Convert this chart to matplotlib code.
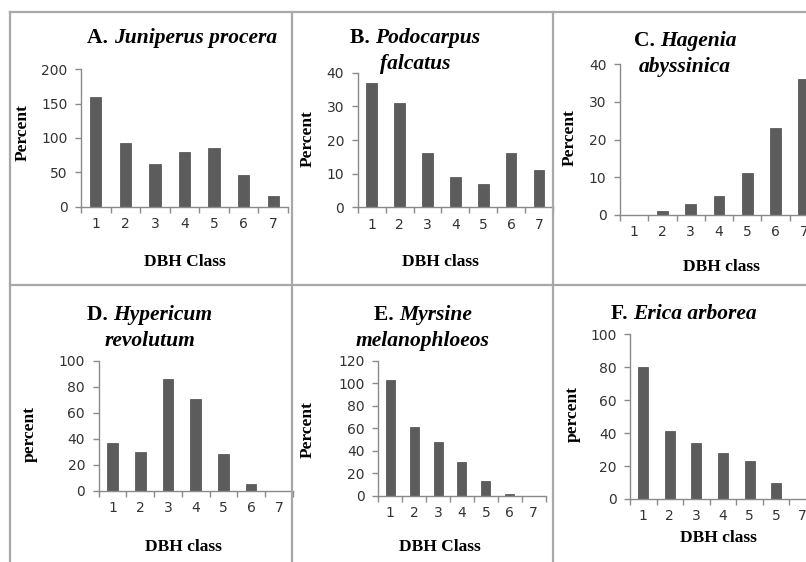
import matplotlib.pyplot as plt
from matplotlib.lines import Line2D
from matplotlib.ticker import MultipleLocator, FixedLocator

W, H = 806, 562
fig = plt.figure(figsize=(W / 100, H / 100), dpi=100)

classes = [1, 2, 3, 4, 5, 6, 7]
juniperus = [160, 92, 62, 79, 86, 46, 16]
podocarpus = [37, 31, 16, 9, 7, 16, 11]
hagenia = [0, 1, 3, 5, 11, 23, 36]
hypericum = [37, 30, 86, 71, 28, 5, 0]
myrsine = [103, 61, 48, 30, 13, 1.5, 0]
erica = [80, 41, 34, 28, 23, 10, 0]
ticks_std = ['1', '2', '3', '4', '5', '6', '7']
ticks_f = ['1', '2', '3', '4', '5', '5', '7']  # as printed in the original

serif = 'Liberation Serif'
bar_col = '#5c5c5c'
axis_col = '#8a8a8a'
grid_col = '#a8a8a8'


def px(x, y):
    return x / W, 1 - y / H


# each panel: values, tick labels, ymax, ystep, axes box (x0, x1, ytop, ybot) in px,
# title parts + centre, ylabel + pos, xlabel + pos
panels = [
    dict(v=juniperus, t=ticks_std, ymax=200, step=50, box=(81, 288, 69.3, 206.7),
         title=[('A.', 'Juniperus procera')], tc=(182, 38),
         yl='Percent', ylp=(23, 133), xl='DBH Class', xlp=(185, 262)),
    dict(v=podocarpus, t=ticks_std, ymax=40, step=10, box=(357.7, 553, 72.7, 207.3),
         title=[('B.', 'Podocarpus'), ('', 'falcatus')], tc=(415, 38),
         yl='Percent', ylp=(308, 139), xl='DBH class', xlp=(440, 262)),
    dict(v=hagenia, t=ticks_std, ymax=40, step=10, box=(620, 818, 64, 215),
         title=[('C.', 'Hagenia'), ('', 'abyssinica')], tc=(685, 41),
         yl='Percent', ylp=(570, 138), xl='DBH class', xlp=(721, 267)),
    dict(v=hypericum, t=ticks_std, ymax=100, step=20, box=(98.7, 292.6, 361, 490.7),
         title=[('D.', 'Hypericum'), ('', 'revolutum')], tc=(150, 315),
         yl='percent', ylp=(30, 434), xl='DBH class', xlp=(183, 547)),
    dict(v=myrsine, t=ticks_std, ymax=120, step=20, box=(378.3, 545.6, 361, 495.7),
         title=[('E.', 'Myrsine'), ('', 'melanophloeos')], tc=(423, 315),
         yl='Percent', ylp=(308, 430), xl='DBH Class', xlp=(440, 547)),
    dict(v=erica, t=ticks_f, ymax=100, step=20, box=(630, 816, 334.3, 499),
         title=[('F.', 'Erica arborea')], tc=(684, 314),
         yl='percent', ylp=(573, 414), xl='DBH class', xlp=(718, 538)),
]

renderer = fig.canvas.get_renderer()

for p in panels:
    x0, x1, yt, yb = p['box']
    ax = fig.add_axes([x0 / W, 1 - yb / H, (x1 - x0) / W, (yb - yt) / H])
    ax.bar(classes, p['v'], width=0.38, color=bar_col, edgecolor='#4a4a4a', linewidth=0.5)
    ax.set_xlim(0.5, 7.5)
    ax.set_ylim(0, p['ymax'])
    ax.yaxis.set_major_locator(MultipleLocator(p['step']))
    ax.set_xticks(classes)
    ax.set_xticklabels(p['t'])
    ax.xaxis.set_minor_locator(FixedLocator([c + 0.5 for c in range(0, 8)]))
    for s in ['top', 'right']:
        ax.spines[s].set_visible(False)
    for s in ['left', 'bottom']:
        ax.spines[s].set_color(axis_col)
        ax.spines[s].set_linewidth(1.0)
    ax.tick_params(axis='y', length=4.3, width=1, color=axis_col, pad=5.5,
                   labelsize=10, labelcolor='#333333')
    ax.tick_params(axis='x', which='major', length=0, pad=7.5,
                   labelsize=10, labelcolor='#333333')
    ax.tick_params(axis='x', which='minor', length=4.3, width=1, color=axis_col)
    ax.set_facecolor('none')

    # title: bold letter + bold italic species name, each line centred
    cx, cy = p['tc']
    for i, (lead, name) in enumerate(p['title']):
        y = cy + i * 26
        parts = []
        if lead:
            parts.append(fig.text(0, 0, lead + ' ', fontfamily=serif, fontweight='bold',
                                  fontsize=15.5, va='center', ha='left'))
        parts.append(fig.text(0, 0, name, fontfamily=serif, fontweight='bold',
                              fontstyle='italic', fontsize=15.5, va='center', ha='left'))
        widths = [t.get_window_extent(renderer).width for t in parts]
        left = cx - sum(widths) / 2
        for t, w in zip(parts, widths):
            t.set_position(px(left, y))
            left += w

    fig.text(*px(*p['ylp']), p['yl'], rotation=90, fontfamily=serif, fontweight='bold',
             fontsize=12.5, ha='center', va='center')
    fig.text(*px(*p['xlp']), p['xl'], fontfamily=serif, fontweight='bold',
             fontsize=12.5, ha='center', va='center')

# table grid lines around the panels
grid = [((10, 12), (806, 12)), ((10, 12), (10, 562)), ((10, 285), (806, 285)),
        ((292, 12), (292, 562)), ((553, 12), (553, 562))]
for a, b in grid:
    fig.add_artist(Line2D([a[0] / W, b[0] / W], [1 - a[1] / H, 1 - b[1] / H],
                          transform=fig.transFigure, color=grid_col, lw=1.6))

fig.savefig('out.png', dpi=100)
